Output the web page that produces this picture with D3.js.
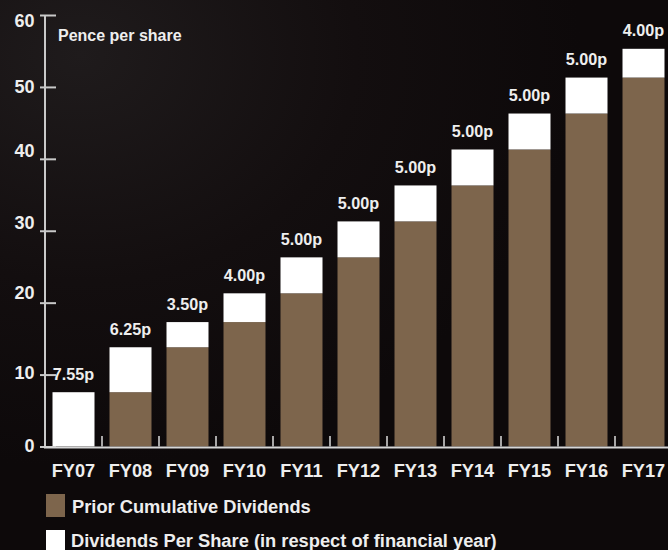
<!DOCTYPE html>
<html>
<head>
<meta charset="utf-8">
<script src="https://cdn.jsdelivr.net/npm/d3@7"></script>
<style>
  html, body { margin: 0; padding: 0; background: #0e0a0b; overflow: hidden; }
  svg { display: block; }
  text { font-family: "Liberation Sans", Arial, Helvetica, sans-serif; font-weight: bold; }
</style>
</head>
<body>
<svg id="chart" width="668" height="550"></svg>
<script>
// Financial years shown on the x axis
const categories = ["FY07", "FY08", "FY09", "FY10", "FY11", "FY12", "FY13", "FY14", "FY15", "FY16", "FY17"];
// Dividends paid in respect of each year (pence per share)
const dividendsPerShare = [7.55, 6.25, 3.50, 4.00, 5.00, 5.00, 5.00, 5.00, 5.00, 5.00, 4.00];
// Dividends paid in all earlier years (pence per share)
const priorCumulative = [0, 7.55, 13.80, 17.30, 21.30, 26.30, 31.30, 36.30, 41.30, 46.30, 51.30];
// Value labels written above each bar
const valueLabels = ["7.55p", "6.25p", "3.50p", "4.00p", "5.00p", "5.00p", "5.00p", "5.00p", "5.00p", "5.00p", "4.00p"];
// Y axis ticks
const yTicks = [0, 10, 20, 30, 40, 50, 60];
const seriesNames = ["Prior Cumulative Dividends", "Dividends Per Share (in respect of financial year)"];

const BROWN = "#7d654c";
const WHITE = "#ffffff";
const AXIS = "#c9c9c9";
const TEXT = "#eeeeee";

const svg = d3.select("#chart");

// soft dark backdrop, a little lighter toward the upper left
const defs = svg.append("defs");
const grad = defs.append("radialGradient")
  .attr("id", "bg").attr("cx", "0.12").attr("cy", "0.1").attr("r", "0.75");
grad.append("stop").attr("offset", "0").attr("stop-color", "#1f1b1c");
grad.append("stop").attr("offset", "0.55").attr("stop-color", "#130e0f");
grad.append("stop").attr("offset", "1").attr("stop-color", "#0d090a");
svg.append("rect").attr("width", 668).attr("height", 550).attr("fill", "url(#bg)");

const x = d3.scaleBand()
  .domain(categories)
  .range([45, 672])
  .paddingInner(15 / 57)
  .paddingOuter(7.5 / 57);

const y = d3.scaleLinear().domain([0, 60]).range([446.5, 15]);

const rows = categories.map((c, i) => ({
  cat: c,
  prior: priorCumulative[i],
  div: dividendsPerShare[i],
  label: valueLabels[i]
}));

const stack = d3.stack().keys(["prior", "div"])(rows);
const colors = { prior: BROWN, div: WHITE };

svg.append("g").selectAll("g")
  .data(stack)
  .join("g")
  .attr("fill", s => colors[s.key])
  .selectAll("rect")
  .data(s => s)
  .join("rect")
  .attr("x", d => x(d.data.cat))
  .attr("width", x.bandwidth())
  .attr("y", d => y(d[1]))
  .attr("height", d => y(d[0]) - y(d[1]));

// value labels above each bar
svg.append("g").selectAll("text")
  .data(rows)
  .join("text")
  .attr("x", d => x(d.cat) + x.bandwidth() / 2)
  .attr("y", d => y(d.prior + d.div) - 12.5)
  .attr("text-anchor", "middle")
  .attr("fill", TEXT)
  .attr("font-size", 16.2)
  .text(d => d.label);

// y axis: line, ticks crossing the line, labels to the left
const yAxis = d3.axisLeft(y).tickValues(yTicks).tickSize(0).tickPadding(10);
const yg = svg.append("g").attr("transform", "translate(45,0)").call(yAxis);
yg.select(".domain").remove();
yg.append("line").attr("x1", 0).attr("x2", 0).attr("y1", y(60)).attr("y2", y(0) + 1)
  .attr("stroke", AXIS).attr("stroke-width", 2);
yg.selectAll(".tick").append("line")
  .attr("x1", -5).attr("x2", 11)
  .attr("stroke", AXIS).attr("stroke-width", 2);
// hand-set baseline offsets of the tick labels
const yLabelBaseline = { 0: 5.2, 10: 3.7, 20: -3.7, 30: -2.4, 40: -2.6, 50: 5.3, 60: 11.7 };
yg.selectAll(".tick text")
  .attr("fill", TEXT)
  .attr("font-size", 18)
  .attr("font-family", null)
  .attr("x", -10.5)
  .attr("dy", null)
  .attr("y", d => yLabelBaseline[d]);

// x axis baseline with short separators between bars
const xg = svg.append("g");
xg.selectAll("line.sep")
  .data(categories.slice(1))
  .join("line")
  .attr("class", "sep")
  .attr("x1", d => x(d) - x.step() * x.paddingInner() / 2)
  .attr("x2", d => x(d) - x.step() * x.paddingInner() / 2)
  .attr("y1", 436).attr("y2", y(0))
  .attr("stroke", "#dddddd").attr("stroke-width", 1.5);
xg.append("line")
  .attr("x1", 44).attr("x2", 668)
  .attr("y1", y(0) + 1).attr("y2", y(0) + 1)
  .attr("stroke", "#d6d6d6").attr("stroke-width", 2);

xg.selectAll("text")
  .data(categories)
  .join("text")
  .attr("x", d => x(d) + x.bandwidth() / 2)
  .attr("y", 477)
  .attr("text-anchor", "middle")
  .attr("fill", TEXT)
  .attr("font-size", 18.2)
  .text(d => d);

// unit note
svg.append("text")
  .attr("x", 58).attr("y", 40.7)
  .attr("fill", TEXT)
  .attr("font-size", 16)
  .text("Pence per share");

// legend
const legend = svg.append("g");
const legendItems = [
  { name: seriesNames[0], color: BROWN, top: 494, tx: 72, base: 513 },
  { name: seriesNames[1], color: WHITE, top: 530, tx: 71, base: 547 }
];
legend.selectAll("rect")
  .data(legendItems)
  .join("rect")
  .attr("x", 46).attr("width", 19)
  .attr("y", d => d.top).attr("height", 23)
  .attr("fill", d => d.color);
legend.selectAll("text")
  .data(legendItems)
  .join("text")
  .attr("x", d => d.tx).attr("y", d => d.base)
  .attr("fill", TEXT)
  .attr("font-size", 18.3)
  .text(d => d.name);
</script>
</body>
</html>
